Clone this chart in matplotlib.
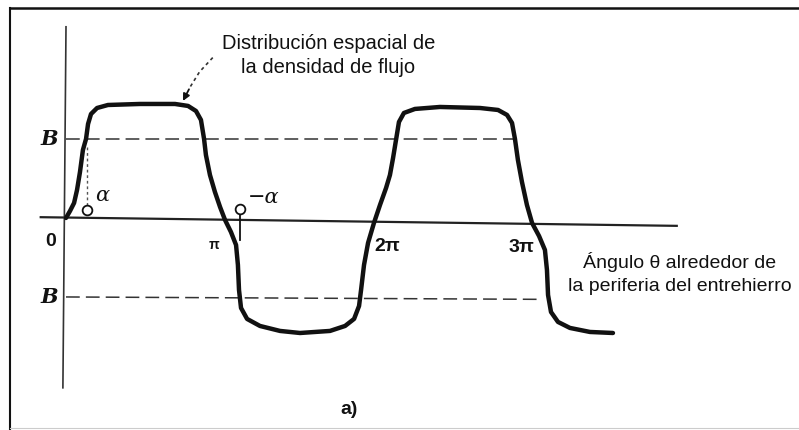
import matplotlib
matplotlib.use("Agg")
import matplotlib.pyplot as plt
from matplotlib.lines import Line2D

# Spatial flux-density wave: angle in multiples of pi, density in units of B
theta = [0.000, 0.026, 0.052, 0.071, 0.090, 0.109, 0.129, 0.142, 0.161, 0.200,
         0.270, 0.476, 0.702, 0.786, 0.837, 0.869, 0.889, 0.901, 0.927, 0.959,
         0.992, 1.024, 1.062, 1.095, 1.107, 1.114, 1.127, 1.166, 1.249, 1.378,
         1.507, 1.700, 1.797, 1.855, 1.887, 1.900, 1.919, 1.945, 1.983, 2.022,
         2.061, 2.086, 2.106, 2.125, 2.144, 2.176, 2.247, 2.408, 2.666, 2.782,
         2.840, 2.872, 2.891, 2.910, 2.936, 2.968, 3.001, 3.046, 3.084, 3.097,
         3.104, 3.123, 3.168, 3.245, 3.374, 3.522]
flux = [0.000, 0.089, 0.190, 0.354, 0.582, 0.861, 1.000, 1.190, 1.316, 1.392,
        1.430, 1.443, 1.443, 1.418, 1.354, 1.241, 1.000, 0.797, 0.544, 0.329,
        0.139, -0.025, -0.177, -0.342, -0.595, -0.911, -1.139, -1.278, -1.367, -1.430,
        -1.456, -1.430, -1.367, -1.278, -1.114, -0.911, -0.595, -0.316, -0.063, 0.165,
        0.380, 0.544, 0.759, 0.987, 1.215, 1.329, 1.380, 1.405, 1.392, 1.367,
        1.304, 1.203, 1.000, 0.734, 0.456, 0.165, -0.063, -0.228, -0.405, -0.658,
        -0.975, -1.190, -1.316, -1.392, -1.443, -1.456]

tick_pos = [0, 1, 2, 3]
tick_labels = ["0", "π", "2π", "3π"]
b_levels = [1.0, -1.0]
b_labels = ["B", "B"]
b_line_end = [2.89, 3.04]

title_lines = "Distribución espacial de\nla densidad de flujo"
xlabel_lines = "Ángulo θ alrededor de\nla periferia del entrehierro"
panel_label = "a)"

INK = "#111111"
SANS = ["Liberation Sans", "DejaVu Sans"]

fig = plt.figure(figsize=(7.99, 4.30), dpi=100)
ax = fig.add_axes([0, 0, 1, 1])
ax.set_xlim(-0.425, 4.720)
ax.set_ylim(-2.684, 2.759)
ax.axis("off")

# frame around the figure
fig.add_artist(Line2D([10/799, 1], [1 - 8/430, 1 - 8/430], color=INK, lw=1.8,
                      transform=fig.transFigure))
fig.add_artist(Line2D([10/799, 10/799], [1 - 8/430, 0], color=INK, lw=1.5,
                      transform=fig.transFigure))
fig.add_artist(Line2D([10/799, 1], [2/430, 2/430], color="#cccccc", lw=0.8,
                      transform=fig.transFigure))

# coordinate axes
ax.plot([-0.17, 3.94], [0.01, -0.10], color="#222222", lw=1.6, solid_capstyle="butt")
ax.plot([0, -0.02], [2.42, -2.15], color="#333333", lw=1.2)

# dashed +B / -B levels
for lvl, end in zip(b_levels, b_line_end):
    ax.plot([0, end], [lvl, lvl - 0.03 * (lvl < 0)], color="#333333", lw=1.1,
            dashes=(9, 4))

# flux-density curve
ax.plot(theta, flux, color=INK, lw=3.2, solid_joinstyle="round",
        solid_capstyle="round")

# tick labels along the angle axis
tick_off = [(-0.10, -0.30), (-0.045, -0.34), (0.07, -0.36), (-0.07, -0.38)]
for p, lab, (dx, dy) in zip(tick_pos, tick_labels, tick_off):
    ax.text(p + dx, dy, lab, fontsize=14 if p != 1 else 10, fontweight="bold",
            family=SANS, ha="center", va="center", color=INK)

# level labels
for lvl, lab in zip(b_levels, b_labels):
    ax.text(-0.105, lvl, lab, fontsize=15, fontweight="bold", style="italic",
            family="DejaVu Serif", ha="center", va="center", color=INK)

# alpha markers
ax.plot([0.135, 0.135], [0.90, 0.16], color="#555555", lw=1.0, dashes=(2, 2))
ax.plot([0.135], [0.10], marker="o", ms=7, mfc="white", mec=INK, mew=1.3)
ax.text(0.23, 0.28, "α", fontsize=15, style="italic", family="DejaVu Serif",
        ha="center", va="center", color=INK)
ax.plot([1.12, 1.12], [0.06, -0.28], color=INK, lw=1.3)
ax.plot([1.12], [0.11], marker="o", ms=7, mfc="white", mec=INK, mew=1.3)
ax.text(1.27, 0.26, "−α", fontsize=15, style="italic", family="DejaVu Serif",
        ha="center", va="center", color=INK)

# annotation of the curve
ax.text(1.69, 2.06, title_lines, fontsize=14.5, family=SANS, ha="center",
        va="center", linespacing=1.35, color=INK)
ax.plot([0.945, 0.86, 0.80], [2.03, 1.85, 1.66], color="#333333", lw=1.2,
        dashes=(2, 2))
ax.annotate("", xy=(0.745, 1.45), xytext=(0.80, 1.66),
            arrowprops=dict(arrowstyle="-|>", color=INK, lw=1.3,
                            mutation_scale=10))

# angle axis description
ax.text(3.95, -0.70, xlabel_lines, fontsize=14, family=SANS, ha="center",
        va="center", linespacing=1.45, color=INK)

ax.text(1.82, -2.43, panel_label, fontsize=14, fontweight="bold", family=SANS,
        ha="center", va="center", color=INK)

fig.savefig("out.png", dpi=100)
